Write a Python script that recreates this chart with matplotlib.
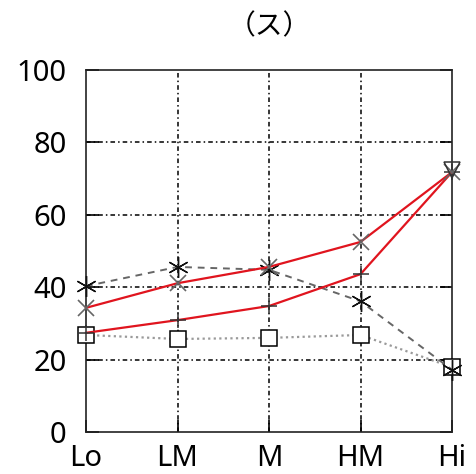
import matplotlib
matplotlib.use("Agg")
import matplotlib.pyplot as plt

categories = ["Lo", "LM", "M", "HM", "Hi"]
y_ticks = [0, 20, 40, 60, 80, 100]

star_series = [40.3, 45.6, 44.8, 36.1, 17.2]
cross_series = [34.3, 41.1, 45.6, 52.5, 71.8]
plus_series = [27.4, 30.9, 34.8, 43.6, 71.8]
square_series = [26.8, 25.7, 26.0, 26.8, 17.9]
peak_category = ["Hi"]
peak_value = [72.3]

plt.rcParams["font.family"] = ["Noto Sans", "DejaVu Sans"]

fig = plt.figure(figsize=(4.76, 4.74), dpi=100)
ax = fig.add_axes([86 / 476, 42 / 474, 366 / 476, 362 / 474])

x = list(range(len(categories)))
peak_x = [categories.index(c) for c in peak_category]

# reference grid
grid_style = (0, (3, 2, 1, 2))
for v in y_ticks[1:-1]:
    ax.axhline(v, color="black", lw=1.1, ls=grid_style, zorder=1)
for v in x[1:-1]:
    ax.axvline(v, color="black", lw=1.1, ls=grid_style, zorder=1)

ax.plot(x, square_series, color="#9a9a9a", lw=1.6, ls=(0, (1, 1.5)),
        marker="s", ms=11, mfc="white", mec="black", mew=1.1, zorder=3,
        clip_on=False)
ax.plot(x, star_series, color="#666666", lw=1.4, ls=(0, (3.5, 3)),
        marker=(6, 2, 0), ms=15, mec="#111111", mew=1.0, zorder=3,
        clip_on=False)
ax.plot(x, plus_series, color="#e0141e", lw=1.6,
        marker="+", ms=12, mec="#333333", mew=1.1, zorder=4, clip_on=False)
ax.plot(x, cross_series, color="#e0141e", lw=1.6,
        marker="x", ms=12, mec="#666666", mew=1.2, zorder=4, clip_on=False)
ax.plot(peak_x, peak_value, ls="none", marker="v", ms=11,
        mfc="none", mec="#333333", mew=1.1, zorder=5, clip_on=False)

ax.set_xlim(0, 4)
ax.set_ylim(0, 100)
ax.set_xticks(x)
ax.set_xticklabels(categories)
ax.set_yticks(y_ticks)

ax.tick_params(axis="both", direction="in", length=9, width=1.2,
               labelsize=21, colors="black")
ax.tick_params(axis="y", right=True, pad=14)
ax.tick_params(axis="x", pad=9)
for s in ax.spines.values():
    s.set_linewidth(1.2)
    s.set_color("#222222")

fig.text(269 / 476, 1 - 26 / 474, "（ス）", ha="center", va="center",
         fontsize=20, family=["Noto Sans CJK JP", "DejaVu Sans"])

fig.savefig("out.png", dpi=100)
